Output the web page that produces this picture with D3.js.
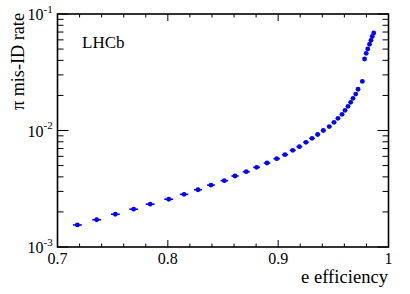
<!DOCTYPE html>
<html><head><meta charset="utf-8">
<script src="https://cdn.jsdelivr.net/npm/d3@7"></script>
<style>body{margin:0;background:#fff}svg{display:block}text{font-family:"Liberation Serif","Times New Roman",serif}</style>
</head><body>
<script>
const eEff = [0.718,0.7355,0.7524,0.769,0.784,0.8008,0.8147,0.8273,0.8391,0.8512,0.8609,0.8711,0.8805,0.8899,0.8987,0.9062,0.9132,0.9192,0.9252,0.9307,0.9358,0.9409,0.9463,0.9506,0.9542,0.9579,0.9606,0.9633,0.9657,0.9678,0.9703,0.9724,0.9763,0.9783,0.9798,0.9812,0.9828,0.9841,0.9853,0.9866];
const piMisID = [0.001546,0.001714,0.00191,0.00211,0.00233,0.00257,0.00283,0.00310,0.00340,0.00371,0.00407,0.00443,0.00483,0.00526,0.00573,0.00620,0.00676,0.00726,0.00792,0.00857,0.00924,0.0100,0.0108,0.01175,0.01273,0.01378,0.0149,0.01614,0.01746,0.0189,0.02056,0.0226,0.0264,0.0411,0.0460,0.0501,0.0550,0.0594,0.0641,0.0687];
const eEffErr = [0.004,0.004,0.004,0.004,0.004,0.004,0.0038,0.0036,0.0035,0.0034,0.0033,0.0032,0.0031,0.003,0.003,0.0028,0.0027,0.0026,0.0025,0.0024,0.0023,0.0022,0.0021,0.002,0.0019,0.0018,0.0017,0.0016,0.0015,0.0014,0.0013,0.0012,0.0011,0.001,0.001,0.001,0.001,0.001,0.001,0.001];
const xTickLabels = ["0.7","0.8","0.9","1"];
const yTickExps = ["-3","-2","-1"];

const W=410,H=294;
const m={l:57.5,r:388.5,t:14,b:247};
const svg=d3.select("body").append("svg").attr("width",W).attr("height",H);
const x=d3.scaleLinear().domain([0.7,1]).range([m.l,m.r]);
const y=d3.scaleLog().domain([1e-3,1e-1]).range([m.b,m.t]);

const data=eEff.map((v,i)=>({x:v,y:piMisID[i],ex:eEffErr[i]}));

// ticks
const xMinor=d3.range(0.70,1.0001,0.02).map(v=>+v.toFixed(2));
const xMajor=[0.7,0.8,0.9,1.0];
const g=svg.append("g").attr("stroke","#000").attr("stroke-width",1);
xMinor.forEach(v=>{
  const major=xMajor.some(M=>Math.abs(M-v)<1e-6);
  const L=major?7:3.5;
  g.append("line").attr("x1",x(v)).attr("x2",x(v)).attr("y1",m.b).attr("y2",m.b-L);
  g.append("line").attr("x1",x(v)).attr("x2",x(v)).attr("y1",m.t).attr("y2",m.t+L);
});
const yT=[];
[1e-3,1e-2].forEach(d=>{for(let k=1;k<10;k++)yT.push({v:d*k,major:k===1});});
yT.push({v:1e-1,major:true});
yT.forEach(t=>{
  const L=t.major?11:6;
  g.append("line").attr("x1",m.l).attr("x2",m.l+L).attr("y1",y(t.v)).attr("y2",y(t.v));
  g.append("line").attr("x1",m.r).attr("x2",m.r-L).attr("y1",y(t.v)).attr("y2",y(t.v));
});
// frame
svg.append("rect").attr("x",m.l).attr("y",m.t).attr("width",m.r-m.l).attr("height",m.b-m.t)
  .attr("fill","none").attr("stroke","#000").attr("stroke-width",1.6);

// x tick labels
xTickLabels.forEach(s=>{
  svg.append("text").attr("x",x(+s)).attr("y",264).attr("text-anchor","middle")
    .attr("font-size",16).text(s);
});
// y tick labels
yTickExps.forEach(e=>{
  const t=svg.append("text").attr("x",43.5).attr("y",y(Math.pow(10,+e))+6).attr("text-anchor","end").attr("font-size",16);
  t.text("10");
  svg.append("text").attr("x",43.5).attr("y",y(Math.pow(10,+e))-1.5).attr("font-size",11).text(e);
});

// axis titles
svg.append("text").attr("x",388).attr("y",283).attr("text-anchor","end").attr("font-size",18.6).text("e efficiency");
svg.append("text").attr("transform","translate(24,13) rotate(-90)").attr("text-anchor","end").attr("font-size",18.2).text("π mis-ID rate");
svg.append("text").attr("x",82).attr("y",48).attr("font-size",17).text("LHCb");

// data
const pts=svg.append("g");
pts.selectAll("line.ex").data(data).join("line")
  .attr("x1",d=>x(d.x-d.ex)).attr("x2",d=>x(d.x+d.ex)).attr("y1",d=>y(d.y)).attr("y2",d=>y(d.y))
  .attr("stroke","#0000ff").attr("stroke-width",1.6);
pts.selectAll("circle").data(data).join("circle")
  .attr("cx",d=>x(d.x)).attr("cy",d=>y(d.y)).attr("r",2.4).attr("fill","#0000ff");
</script>
</body></html>
